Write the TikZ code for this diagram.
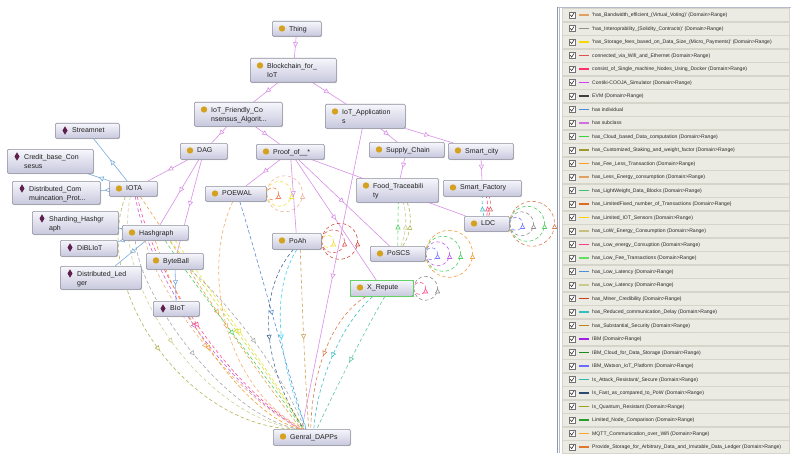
\documentclass[tikz,border=0pt]{standalone}
\usepackage{fontspec}
\setmainfont{Liberation Sans}
\usetikzlibrary{arrows.meta,decorations.markings,shadows,calc}
\pgfdeclarelayer{bg}
\pgfsetlayers{bg,main}
\definecolor{boxtop}{HTML}{F6F6FC}
\definecolor{boxbot}{HTML}{C8C8DE}
\definecolor{boxborder}{HTML}{8C8C9C}
\definecolor{icongold}{HTML}{D4A21E}
\definecolor{indpurple}{HTML}{5E1F4E}
\definecolor{subc}{HTML}{D98FE8}
\definecolor{indc}{HTML}{78ACDF}
\definecolor{rowbg}{HTML}{ECEBE3}
\definecolor{rowline}{HTML}{D6D5CC}
\definecolor{panelA}{HTML}{8A98B8}
\definecolor{panelB}{HTML}{B8BCC8}
% property colours
\definecolor{pOlive}{HTML}{B5B55A}
\definecolor{pKhaki}{HTML}{CFCF95}
\definecolor{pViolet}{HTML}{C060E8}
\definecolor{pPink}{HTML}{FF4F8F}
\definecolor{pOrangeA}{HTML}{F0A050}
\definecolor{pGray}{HTML}{A8A8A8}
\definecolor{pSalmon}{HTML}{F0B080}
\definecolor{pOrangeB}{HTML}{F5A030}
\definecolor{pGreen}{HTML}{50D060}
\definecolor{pYGreen}{HTML}{C8E040}
\definecolor{pYellow}{HTML}{F0E040}
\definecolor{pTanOr}{HTML}{F0B070}
\definecolor{pBlue}{HTML}{5A8AD0}
\definecolor{pDBlue}{HTML}{4A6A9A}
\definecolor{pCyan}{HTML}{40D0F0}
\definecolor{pTan}{HTML}{C8A050}
\definecolor{pOBrown}{HTML}{D88050}
\definecolor{pTeal}{HTML}{40C0C0}
\definecolor{pGTeal}{HTML}{60C8A0}
\definecolor{pRed}{HTML}{E06060}
\definecolor{pBRed}{HTML}{D05040}
\definecolor{pPeri}{HTML}{7A7AFF}
\definecolor{pOrange}{HTML}{F5A040}
\definecolor{pSalmonPink}{HTML}{F0B8A0}
\definecolor{pOrRed}{HTML}{F08050}
\definecolor{pDGray}{HTML}{909090}
% legend colours
\definecolor{L1}{HTML}{E0A060}\definecolor{L2}{HTML}{909090}\definecolor{L3}{HTML}{F5D800}
\definecolor{L4}{HTML}{E05050}\definecolor{L5}{HTML}{FF2E72}\definecolor{L6}{HTML}{D040F0}
\definecolor{L7}{HTML}{404040}\definecolor{L8}{HTML}{4A8FD8}\definecolor{L9}{HTML}{CF6FE0}
\definecolor{L10}{HTML}{40D040}\definecolor{L11}{HTML}{9A9A30}\definecolor{L12}{HTML}{FFA020}
\definecolor{L13}{HTML}{E0A060}\definecolor{L14}{HTML}{40C070}\definecolor{L15}{HTML}{E06A20}
\definecolor{L16}{HTML}{FFD000}\definecolor{L17}{HTML}{C8C080}\definecolor{L18}{HTML}{FF3C8C}
\definecolor{L19}{HTML}{5EE05E}\definecolor{L20}{HTML}{4A8FD8}\definecolor{L21}{HTML}{CACA90}
\definecolor{L22}{HTML}{C44020}\definecolor{L23}{HTML}{30C0C0}\definecolor{L24}{HTML}{C0801A}
\definecolor{L25}{HTML}{A020E8}\definecolor{L26}{HTML}{1E8A1E}\definecolor{L27}{HTML}{6A6AFF}
\definecolor{L28}{HTML}{30B8B0}\definecolor{L29}{HTML}{2A4A70}\definecolor{L30}{HTML}{A0A020}
\definecolor{L31}{HTML}{2A9A2A}\definecolor{L32}{HTML}{FFA830}\definecolor{L33}{HTML}{E07830}

\tikzset{
  box/.style={draw=boxborder, line width=0.6pt, rounded corners=1.2pt,
    top color=boxtop, bottom color=boxbot, inner sep=0pt,
    drop shadow={shadow xshift=0.8pt, shadow yshift=-0.8pt, opacity=0.3}},
  lbl/.style={inner sep=0pt, anchor=north west, align=left,
    font=\fontsize{7}{9.3}\selectfont, text=black!88},
  midtri/.style={postaction={decorate}, decoration={markings,
    mark=at position 0.5 with {\arrow{Triangle[fill=white,length=5pt,width=5pt,line width=0.6pt]}}}},
  sub/.style={draw=subc, line width=0.6pt, midtri},
  indv/.style={draw=indc, line width=0.6pt, midtri},
  prop/.style={draw=#1, line width=0.6pt, dash pattern=on 3.5pt off 2.5pt, midtri},
  legtxt/.style={inner sep=0pt, anchor=base west, font=\fontsize{5.1}{6}\selectfont, text=black!85},
}

\newcommand\ontoC[6]{%
  \node[box, anchor=north west, minimum width={#4-#2}, minimum height={#5-#3}] (#1) at (#2,#3) {};
  \fill[icongold] ($(#1.north west)+(10,7.5)$) circle (3.2);
  \node[lbl] (#1-t) at ($(#1.north west)+(17,4.9)$) {#6};
}
\newcommand\ontoI[6]{%
  \node[box, anchor=north west, minimum width={#4-#2}, minimum height={#5-#3}] (#1) at (#2,#3) {};
  \fill[indpurple] ($(#1.north west)+(10,7.5)$) +(0,-4.2) -- +(2.5,0) -- +(0,4.2) -- +(-2.5,0) -- cycle;
  \node[lbl] (#1-t) at ($(#1.north west)+(17,4.9)$) {#6};
}
\newcommand\legrow[3]{%
  \pgfmathsetmacro\ly{15+13.5*(#1-1)}
  \fill[rowbg, draw=rowline, line width=0.4pt] (562,\ly-6.5) rectangle (789,\ly+6.5);
  \draw[fill=white, draw=black!55, line width=0.4pt] (569,\ly-3) rectangle (575,\ly+3);
  \draw[line width=0.6pt, black!80] (570.2,\ly-0.2) -- (571.7,\ly+1.6) -- (574,\ly-2);
  \draw[#2, line width=1.4pt] (578.5,\ly) -- (589,\ly);
  \node[legtxt] (leg#1) at (592,\ly+1.7) {#3};
}

\begin{document}
\begin{tikzpicture}[x=1pt,y=-1pt]
\useasboundingbox (0,0) rectangle (796,460);
\begin{pgfonlayer}{bg}
\fill[white] (0,0) rectangle (796,460);
\end{pgfonlayer}

% ---------------- nodes ----------------
\ontoC{Thing}{272}{21}{321}{36}{Thing}
\ontoC{Block}{250}{58}{336}{82}{Blockchain\_for\_\\IoT}
\ontoC{IoTF}{194}{102}{282}{126}{IoT\_Friendly\_Co\\nsensus\_Algorit...}
\ontoC{IoTA}{325}{104}{405}{128}{IoT\_Application\\s}
\ontoI{Stream}{55}{123}{119}{138}{Streamnet}
\ontoC{DAG}{180}{143}{227}{159}{DAG}
\ontoC{Proof}{256}{144}{324}{159}{Proof\_of\_\_*}
\ontoC{Supply}{369}{142}{444}{157}{Supply\_Chain}
\ontoC{SCity}{448}{143}{513}{159}{Smart\_city}
\ontoI{Credit}{7}{149}{93}{173}{Credit\_base\_Con\\sesus}
\ontoI{DistCom}{12}{181}{100}{204}{Distributed\_Com\\muincation\_Prot...}
\ontoC{IOTA}{109}{181}{157}{196}{IOTA}
\ontoI{Shard}{32}{211}{118}{234}{Sharding\_Hashgr\\aph}
\ontoC{Hash}{122}{225}{188}{240}{Hashgraph}
\ontoI{DiBL}{60}{240}{117}{256}{DiBLIoT}
\ontoC{Byte}{146}{253}{203}{269}{ByteBall}
\ontoI{DLedger}{60}{266}{141}{289}{Distributed\_Led\\ger}
\ontoI{BIoT}{153}{301}{199}{316}{BIoT}
\ontoC{POEWAL}{205}{186}{266}{201}{POEWAL}
\ontoC{Food}{356}{178}{438}{202}{Food\_Traceabili\\ty}
\ontoC{SFact}{443}{180}{521}{196}{Smart\_Factory}
\ontoC{LDC}{464}{216}{509}{231}{LDC}
\ontoC{PoAh}{272}{233}{321}{249}{PoAh}
\ontoC{PoSCS}{370}{246}{425}{261}{PoSCS}
\ontoC{XRep}{350}{280}{413}{296}{X\_Repute}
\draw[draw=green!70!black!60, line width=0.9pt] (XRep.north west) rectangle (XRep.south east);
\ontoC{GD}{273}{429}{350}{445}{Genral\_DAPPs}

% ---------------- connectors (behind nodes) ----------------
\begin{pgfonlayer}{bg}
% subclass
\draw[sub] (Thing) -- (Block);
\draw[sub] (Block) -- (IoTF);
\draw[sub] (Block) -- (IoTA);
\draw[sub] (IoTF) -- (DAG);
\draw[sub] (IoTF) -- (Proof);
\draw[sub] (IoTA) -- (Supply);
\draw[sub] (IoTA) -- (SCity);
\draw[sub] (Supply) -- (Food);
\draw[sub] (SCity) -- (SFact);
\draw[sub] (DAG) -- (IOTA);
\draw[sub] (DAG) -- (Hash);
\draw[sub] (DAG) -- (Byte);
\draw[sub] (Proof) -- (POEWAL);
\draw[sub] (Proof) -- (PoAh);
\draw[sub] (Proof) -- (PoSCS);
\draw[sub] (Proof) -- (XRep);
\draw[sub] (Proof) -- (LDC);
\draw[sub] ([xshift=-3pt]IoTA.south) -- ([xshift=-10pt]GD.north);
% individuals
\draw[indv] (IOTA) -- (Stream);
\draw[indv] (IOTA) -- (Credit);
\draw[indv] (IOTA) -- (DistCom);
\draw[indv] (Hash) -- (Shard);
\draw[indv] (Hash) -- (DiBL);
\draw[indv] (Hash) -- (DLedger);
\draw[indv] (Byte) -- (BIoT);

% object properties to Genral_DAPPs
\draw[prop=pOlive]   ([xshift=-8pt]IOTA.south) .. controls (90,290) and (190,430) .. ([xshift=-14pt]GD.north);
\draw[prop=pKhaki]   ([xshift=-3pt]IOTA.south) .. controls (110,290) and (210,420) .. ([xshift=-13pt]GD.north);
\draw[prop=pViolet]  ([xshift=2pt]IOTA.south) .. controls (150,280) and (230,390) .. ([xshift=-12pt]GD.north);
\draw[prop=pPink]    ([xshift=4pt]IOTA.south) .. controls (156,282) and (234,390) .. ([xshift=-11pt]GD.north);
\draw[prop=pOrangeA] ([xshift=7pt]IOTA.south) .. controls (170,240) and (260,380) .. ([xshift=-10pt]GD.north);
\draw[prop=pGray]    ([xshift=-20pt]Hash.south) .. controls (140,300) and (230,420) .. ([xshift=-12pt]GD.north);
\draw[prop=pSalmon]  ([xshift=-10pt]Hash.south) .. controls (160,300) and (240,400) .. ([xshift=-11pt]GD.north);
\draw[prop=pOrangeB] (Hash.south) .. controls (180,320) and (250,420) .. ([xshift=-10pt]GD.north);
\draw[prop=pGreen]   ([xshift=10pt]Hash.south) .. controls (190,280) and (270,380) .. ([xshift=-9pt]GD.north);
\draw[prop=pYGreen]  ([xshift=15pt]Hash.south) .. controls (200,280) and (280,390) .. ([xshift=-8pt]GD.north);
\draw[prop=pYellow]  ([xshift=20pt]Hash.south) .. controls (206,284) and (284,392) .. ([xshift=-8pt]GD.north);
\draw[prop=pGray]    ([xshift=15pt]Byte.south) .. controls (210,285) and (275,355) .. ([xshift=-7pt]GD.north);
\draw[prop=pTanOr]   ([xshift=-3pt]POEWAL.south) .. controls (200,270) and (225,390) .. ([xshift=-8pt]GD.north);
\draw[prop=pBlue]    ([xshift=4pt]POEWAL.south) .. controls (255,250) and (290,380) .. ([xshift=-6pt]GD.north);
\draw[prop=pDBlue]   ([xshift=-3.5pt]PoAh.south) .. controls (250,300) and (270,380) .. ([xshift=-8pt]GD.north);
\draw[prop=pCyan]    (PoAh.south) .. controls (265,300) and (285,380) .. ([xshift=-5pt]GD.north);
\draw[prop=pTan]     ([xshift=3.5pt]PoAh.south) .. controls (302,300) and (305,380) .. ([xshift=-3pt]GD.north);
\draw[prop=pOBrown]  ([xshift=-16pt]XRep.south) .. controls (335,315) and (312,365) .. ([xshift=-1pt]GD.north);
\draw[prop=pTeal]    ([xshift=-9pt]XRep.south) .. controls (345,320) and (318,375) .. ([xshift=2pt]GD.north);
\draw[prop=pGTeal]   ([xshift=3pt]XRep.south) .. controls (365,330) and (335,390) .. ([xshift=5pt]GD.north);

% PoSCS -> Food_Traceability
\draw[prop=pGreen]  ([xshift=0pt]PoSCS.north) .. controls (398,232) and (398,215) .. ([xshift=1pt]Food.south);
\draw[prop=pKhaki]  ([xshift=3pt]PoSCS.north) .. controls (407,232) and (407,215) .. ([xshift=6pt]Food.south);
\draw[prop=pOlive]  ([xshift=5pt]PoSCS.north) .. controls (412,232) and (412,215) .. ([xshift=10pt]Food.south);
% LDC -> Smart_Factory
\draw[prop=pTeal]   ([xshift=-3pt]LDC.north) .. controls (482,210) and (482,202) .. ([xshift=0pt]SFact.south);
\draw[prop=pPink]   ([xshift=0pt]LDC.north) .. controls (488,210) and (488,202) .. ([xshift=4pt]SFact.south);
\draw[prop=pRed]    ([xshift=2pt]LDC.north) .. controls (491,210) and (491,202) .. ([xshift=7pt]SFact.south);

% self loops
\draw[prop=pOrRed]      (POEWAL.east) arc[start angle=180, end angle=-180, radius=6];
\draw[prop=pYellow]     (POEWAL.east) arc[start angle=180, end angle=-180, radius=12.5];
\draw[prop=pSalmonPink] (POEWAL.east) arc[start angle=180, end angle=-180, radius=18];
\draw[prop=pYellow]     (PoAh.east) arc[start angle=180, end angle=-180, radius=6];
\draw[prop=pRed]        (PoAh.east) arc[start angle=180, end angle=-180, radius=11.5];
\draw[prop=pBRed]       (PoAh.east) arc[start angle=180, end angle=-180, radius=18];
\draw[prop=pPeri]       (PoSCS.east) arc[start angle=180, end angle=-180, radius=6];
\draw[prop=pViolet]     (PoSCS.east) arc[start angle=180, end angle=-180, radius=12];
\draw[prop=pGreen]      (PoSCS.east) arc[start angle=180, end angle=-180, radius=17.5];
\draw[prop=pOrange]     (PoSCS.east) arc[start angle=180, end angle=-180, radius=23.5];
\draw[prop=pPeri]       (LDC.east) arc[start angle=180, end angle=-180, radius=6.5];
\draw[prop=pDGray]      (LDC.east) arc[start angle=180, end angle=-180, radius=12];
\draw[prop=pGreen]      (LDC.east) arc[start angle=180, end angle=-180, radius=17.5];
\draw[prop=pOBrown]     (LDC.east) arc[start angle=180, end angle=-180, radius=22.5];
\draw[prop=pPink]       (XRep.east) arc[start angle=180, end angle=-180, radius=6];
\draw[prop=pDGray]      (XRep.east) arc[start angle=180, end angle=-180, radius=12];
\end{pgfonlayer}

% ---------------- legend panel ----------------
\draw[panelB, line width=0.6pt] (557,7) -- (791,7);
\draw[panelA, line width=0.8pt] (557,7) -- (557,453);
\draw[panelB, line width=0.6pt] (559.5,7) -- (559.5,453);
\legrow{1}{L1}{\textquotesingle has\_Bandwidth\_efficient\_(Virtual\_Voting)\textquotesingle{} (Domain>Range)}
\legrow{2}{L2}{\textquotesingle has\_Interoprability\_(Solidity\_Contracts)\textquotesingle{} (Domain>Range)}
\legrow{3}{L3}{\textquotesingle has\_Storage\_fees\_based\_on\_Data\_Size\_(Micro\_Payments)\textquotesingle{} (Domain>Range)}
\legrow{4}{L4}{connected\_via\_Wifi\_and\_Ethernet (Domain>Range)}
\legrow{5}{L5}{consist\_of\_Single\_machine\_Nodes\_Using\_Docker (Domain>Range)}
\legrow{6}{L6}{Contiki-COOJA\_Simulator (Domain>Range)}
\legrow{7}{L7}{EVM (Domain>Range)}
\legrow{8}{L8}{has individual}
\legrow{9}{L9}{has subclass}
\legrow{10}{L10}{has\_Cloud\_based\_Data\_computation (Domain>Range)}
\legrow{11}{L11}{has\_Customized\_Staking\_and\_weight\_factor (Domain>Range)}
\legrow{12}{L12}{has\_Fee\_Less\_Transaction (Domain>Range)}
\legrow{13}{L13}{has\_Less\_Energy\_consumption (Domain>Range)}
\legrow{14}{L14}{has\_LightWeight\_Data\_Blocks (Domain>Range)}
\legrow{15}{L15}{has\_LimitedFixed\_number\_of\_Transactions (Domain>Range)}
\legrow{16}{L16}{has\_Limited\_IOT\_Sensors (Domain>Range)}
\legrow{17}{L17}{has\_LoW\_Energy\_Consumption (Domain>Range)}
\legrow{18}{L18}{has\_Low\_energy\_Consuption (Domain>Range)}
\legrow{19}{L19}{has\_Low\_Fee\_Transactions (Domain>Range)}
\legrow{20}{L20}{has\_Low\_Latency (Domain>Range)}
\legrow{21}{L21}{has\_Low\_Latency (Domain>Range)}
\legrow{22}{L22}{has\_Miner\_Credibility (Domain>Range)}
\legrow{23}{L23}{has\_Reduced\_communication\_Delay (Domain>Range)}
\legrow{24}{L24}{has\_Substantial\_Security (Domain>Range)}
\legrow{25}{L25}{IBM (Domain>Range)}
\legrow{26}{L26}{IBM\_Cloud\_for\_Data\_Storage (Domain>Range)}
\legrow{27}{L27}{IBM\_Watson\_IoT\_Platform (Domain>Range)}
\legrow{28}{L28}{Is\_Attack\_Resistant/\_Secure (Domain>Range)}
\legrow{29}{L29}{Is\_Fast\_as\_compared\_to\_PoW (Domain>Range)}
\legrow{30}{L30}{Is\_Quantum\_Resistant (Domain>Range)}
\legrow{31}{L31}{Limited\_Node\_Comparison (Domain>Range)}
\legrow{32}{L32}{MQTT\_Communication\_over\_Wifi (Domain>Range)}
\legrow{33}{L33}{Provide\_Storage\_for\_Arbitrary\_Data\_and\_Imutable\_Data\_Ledger (Domain>Range)}
\end{tikzpicture}
\end{document}
